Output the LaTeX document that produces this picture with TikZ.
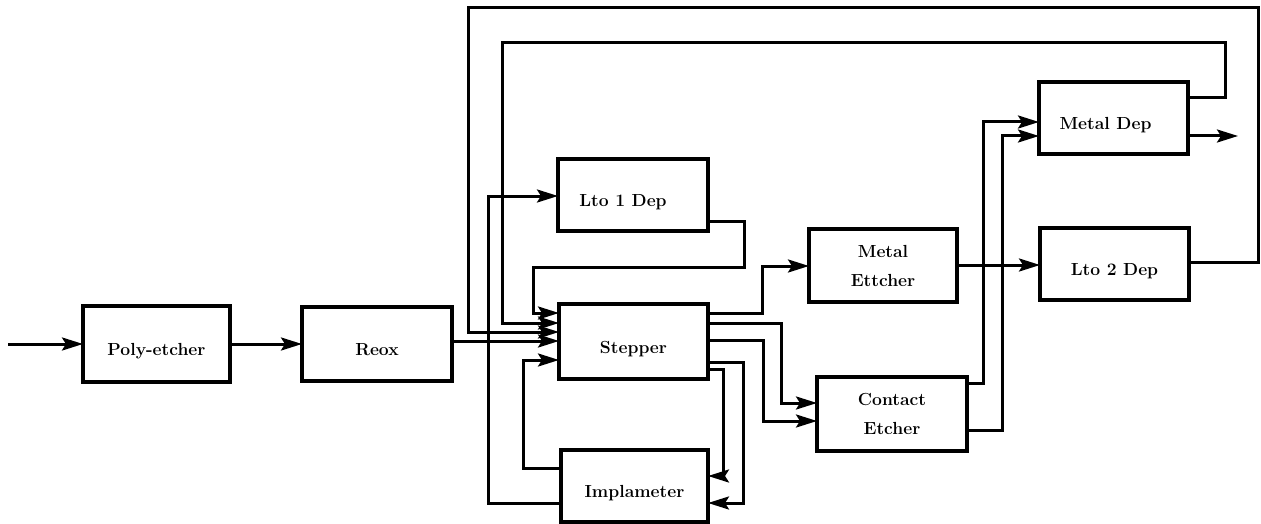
\documentclass[tikz,border=0pt]{standalone}
\usetikzlibrary{arrows.meta}
\begin{document}
\begin{tikzpicture}[x=1pt,y=-1pt,
  box/.style={draw,line width=3.2pt,outer sep=0pt,inner sep=2pt,align=center,
    font=\fontsize{17.5}{29}\selectfont\bfseries},
  low/.style={text height=23pt,text depth=0pt},
  conn/.style={line width=3pt,line join=miter},
  arr/.style={conn,-{Stealth[length=21pt,width=13pt,inset=4pt]}}]
\useasboundingbox (0,0) rectangle (1261,524);
% boxes
\node[box,low,minimum width=147pt,minimum height=76pt] (poly) at (156.5,344) {Poly-etcher};
\node[box,low,minimum width=150pt,minimum height=74pt] (reox) at (377,344) {Reox};
\node[box,low,minimum width=150pt,minimum height=72pt] (lto1) at (633,195) {Lto 1 Dep\hspace*{20pt}};
\node[box,low,minimum width=149pt,minimum height=75pt] (stepper) at (633.5,341.5) {Stepper};
\node[box,low,minimum width=147pt,minimum height=72pt] (impl) at (634.5,486) {Implameter};
\node[box,minimum width=148pt,minimum height=73pt] (metalet) at (883,265.5) {Metal\\Ettcher};
\node[box,minimum width=150pt,minimum height=74pt] (contact) at (892,414) {Contact\\Etcher};
\node[box,low,minimum width=149pt,minimum height=72pt] (metaldep) at (1113.5,118) {Metal Dep\hspace*{16pt}};
\node[box,low,minimum width=149pt,minimum height=72pt] (lto2) at (1114.5,264) {Lto 2 Dep};
\coordinate (in) at (8,344);
\coordinate (out) at (1238,136);
% connectors
\draw[arr] (in) -- (poly.west);
\draw[arr] (poly.east) -- (reox.west);
\draw[arr] (reox.east|-0,341) -- (stepper.west|-0,341);
\draw[arr] (lto1.east|-0,221) -| (744,267) -| (533,313) -- (stepper.west|-0,313);
\draw[arr] (metaldep.east|-0,98) -| (1225,43) -| (502,323) -- (stepper.west|-0,323);
\draw[arr] (lto2.east|-0,262) -| (1258,8) -| (468,332) -- (stepper.west|-0,332);
\draw[arr] (impl.west|-0,468) -| (523,360) -- (stepper.west|-0,360);
\draw[arr] (impl.west|-0,503) -| (488,196) -- (lto1.west|-0,196);
\draw[arr] (stepper.east|-0,313) -| (762,266) -- (metalet.west|-0,266);
\draw[arr] (stepper.east|-0,323) -| (781,403) -- (contact.west|-0,403);
\draw[arr] (stepper.east|-0,340) -| (763,421) -- (contact.west|-0,421);
\draw[arr] (stepper.east|-0,362) -| (743,503) -- (impl.east|-0,503);
\draw[arr] (stepper.east|-0,369) -| (723,476) -- (impl.east|-0,476);
\draw[arr] (metalet.east|-0,265) -- (lto2.west|-0,265);
\draw[arr] (contact.east|-0,383) -| (983,122) -- (metaldep.west|-0,122);
\draw[arr] (contact.east|-0,430) -| (1002,136) -- (metaldep.west|-0,136);
\draw[arr] (metaldep.east|-0,136) -- (out);
\end{tikzpicture}
\end{document}
